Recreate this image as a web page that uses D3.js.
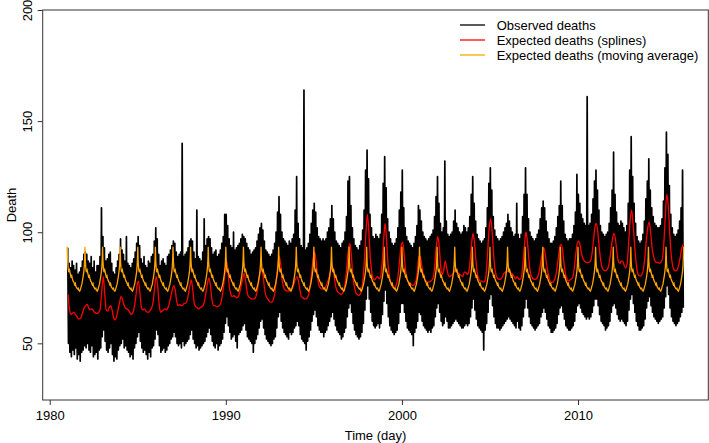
<!DOCTYPE html>
<html><head><meta charset="utf-8">
<script src="https://cdn.jsdelivr.net/npm/d3@7/dist/d3.min.js"></script>
<style>
html,body{margin:0;padding:0;background:#fff;}
svg text{font-family:"Liberation Sans",Arial,Helvetica,sans-serif;font-size:13px;fill:#000;}
</style></head>
<body>
<svg id="chart" width="709" height="443"></svg>
<script>
// ---- data ----
const xTicks = [1980, 1990, 2000, 2010];
const yTicks = [50, 100, 150, 200];
const seriesStart = 1981;          // first day of the series
const obsPerYear = 24;             // observed: half-month samples (peak / trough)
const splinePerYear = 12;          // expected (splines): monthly values

const observed = [
 93,50, 86,46, 84,44, 87,47, 85,45, 83,48, 86,43, 81,45, 82,42, 84,46, 87,47, 90,49,
 91,48, 90,50, 87,47, 86,46, 89,49, 84,44, 87,45, 82,46, 85,43, 85,47, 89,48, 111,53,
 98,56, 93,51, 87,47, 88,46, 90,48, 91,50, 86,45, 82,42, 81,44, 84,43, 87,47, 90,49,
 97,50, 92,52, 90,48, 87,49, 98,47, 86,46, 85,44, 84,45, 86,43, 88,48, 91,50, 95,53,
 98,55, 94,51, 88,48, 86,46, 89,47, 85,45, 84,43, 87,46, 86,44, 89,48, 90,49, 96,52,
 102,56, 97,54, 90,49, 85,46, 87,47, 88,48, 86,46, 85,47, 89,49, 90,50, 92,52, 94,53,
 96,55, 95,53, 91,50, 89,49, 90,50, 91,48, 140,51, 89,49, 90,50, 91,51, 93,52, 96,54,
 97,56, 96,52, 91,50, 88,48, 110,49, 89,47, 88,48, 87,49, 91,50, 106,51, 94,53, 97,55,
 98,57, 97,54, 93,51, 90,49, 91,48, 92,50, 89,47, 90,49, 92,50, 95,52, 98,55, 108,59,
 108,62, 103,58, 97,55, 94,52, 93,53, 100,54, 92,51, 93,48, 94,54, 95,55, 97,56, 99,58,
 98,59, 97,56, 95,53, 93,52, 92,51, 90,50, 91,46, 92,50, 93,52, 96,54, 99,57, 102,60,
 104,61, 101,57, 96,54, 92,52, 91,51, 90,50, 89,49, 90,50, 92,52, 95,53, 100,57, 109,62,
 116,64, 108,60, 100,57, 97,55, 96,54, 95,53, 94,52, 96,55, 95,54, 97,55, 99,57, 110,58,
 125,60, 104,58, 97,54, 94,52, 93,51, 164,50, 92,47, 93,51, 95,53, 99,56, 104,60, 110,63,
 113,65, 109,62, 102,58, 98,56, 97,55, 96,55, 97,53, 96,55, 97,56, 100,58, 102,60, 106,62,
 112,64, 106,61, 100,58, 96,56, 95,55, 94,54, 93,52, 95,53, 96,55, 100,57, 107,62, 123,66,
 125,68, 112,64, 102,59, 97,56, 94,54, 93,53, 92,52, 94,53, 96,55, 101,59, 110,65, 128,70,
 137,76, 124,70, 108,64, 102,60, 98,58, 97,57, 99,58, 98,59, 97,57, 99,59, 108,63, 122,69,
 134,74, 120,68, 106,62, 100,58, 97,56, 95,55, 94,54, 95,55, 97,56, 102,59, 110,64, 118,68,
 128,68, 111,64, 102,60, 98,57, 96,56, 95,55, 94,54, 93,49, 95,55, 98,57, 103,60, 112,64,
 110,63, 105,60, 100,58, 98,57, 97,56, 96,55, 97,56, 98,55, 99,57, 101,58, 107,62, 116,66,
 125,68, 113,64, 104,60, 100,58, 102,59, 132,62, 105,60, 99,57, 98,57, 99,58, 100,59, 105,60,
 110,61, 104,60, 102,59, 100,58, 99,57, 100,57, 103,58, 102,59, 100,58, 102,59, 107,62, 117,66,
 125,70, 113,65, 105,61, 99,58, 97,57, 96,56, 95,55, 96,47, 97,56, 102,59, 111,64, 122,70,
 129,72, 119,67, 107,62, 101,59, 98,57, 97,57, 96,56, 97,57, 98,58, 100,59, 102,60, 104,61,
 108,62, 105,61, 102,60, 100,59, 98,58, 99,57, 113,60, 99,57, 97,56, 99,58, 107,62, 117,66,
 129,70, 117,66, 106,62, 100,59, 98,58, 97,57, 96,56, 97,57, 99,58, 101,59, 106,62, 111,64,
 114,66, 111,64, 105,61, 100,58, 97,57, 95,55, 95,55, 96,56, 98,57, 102,59, 107,63, 112,66,
 123,67, 112,64, 105,61, 99,58, 97,57, 96,56, 97,56, 97,57, 99,58, 103,60, 109,64, 126,67,
 117,68, 113,66, 108,64, 106,63, 104,62, 103,61, 161,62, 103,61, 104,62, 108,64, 115,67, 123,70,
 128,70, 119,67, 110,63, 103,60, 100,59, 99,58, 98,56, 99,57, 100,58, 104,60, 111,64, 119,67,
 136,68, 117,66, 109,63, 104,61, 103,60, 105,61, 104,60, 102,59, 100,58, 103,60, 113,65, 128,70,
 143,72, 125,68, 113,64, 104,60, 98,58, 96,56, 95,56, 96,57, 99,58, 105,61, 115,66, 123,69,
 133,71, 119,67, 111,64, 107,62, 104,61, 103,60, 102,59, 102,60, 103,61, 106,62, 114,66, 129,71,
 145,76, 135,72, 121,66, 108,62, 102,60, 99,59, 98,58, 99,59, 101,60, 105,62, 111,64, 128,66
];

const splines = [
 72, 65, 63, 63.5, 64, 63, 62, 61, 61, 62, 64, 66,
 67, 67.5, 66, 65, 65.5, 65, 64, 63.5, 63.5, 64, 66, 74,
 80, 72, 65, 64.5, 66, 67, 65, 61.5, 60.5, 62, 65, 68,
 71, 70, 67.5, 66, 65.5, 65, 64, 63, 63.5, 66, 70, 76,
 78, 72, 66, 65, 65.5, 64.5, 64, 64, 65, 66, 69, 75,
 80, 76, 68, 64, 64.5, 65, 65.5, 65, 66, 68, 71, 74,
 76, 74, 69, 67, 67.5, 67, 67, 68, 68, 69, 72, 76,
 78.5, 74, 68, 66.5, 66, 65.5, 66, 66.5, 67, 69, 73, 77,
 79.5, 76, 70, 67, 67, 66.5, 66.5, 67, 68, 71, 76, 82,
 87, 82, 75, 72, 71, 71.5, 71, 70.5, 71, 73, 76, 79,
 81.5, 78, 73, 71, 70.5, 70, 70, 70, 71, 74, 78, 82,
 84, 80, 74, 71, 70, 69, 68.5, 68.5, 70, 73, 79, 85,
 89, 85, 78, 75, 74, 73.5, 73.5, 74, 74.5, 75, 77, 79,
 80, 78, 74, 71, 70.5, 70, 70, 70.5, 72, 76, 82, 88,
 91, 87, 80, 76, 75, 74.5, 74.5, 75, 76, 78, 80, 83,
 84.5, 82, 77, 74, 73, 72.5, 72, 72.5, 74, 78, 85, 92,
 95, 90, 81, 76, 73, 72, 71.5, 72, 74, 79, 88, 100,
 108, 100, 88, 82, 79, 78.5, 79.5, 80, 79, 80, 86, 96,
 104, 97, 86, 80, 77, 75.5, 75, 75.5, 77, 81, 88, 94,
 95.5, 90, 83, 79, 77.5, 77, 76.5, 76, 76.5, 78, 82, 89,
 89, 85, 81, 79, 78, 77.5, 77.5, 78, 78.5, 80, 86, 94,
 98, 93, 84, 81, 83, 87, 84, 81, 80, 80.5, 81, 82,
 83, 82, 81.5, 81, 80.5, 80, 82, 82, 81, 82, 87, 95,
 99.5, 95, 87, 81, 79, 78, 78, 77.5, 78, 82, 92, 102,
 106, 100, 90, 83, 80, 79, 78.8, 79, 80, 81.5, 82, 82.5,
 82.5, 82, 81.5, 81, 80, 79, 80, 79, 78.8, 80, 86, 94,
 100, 96, 88, 82, 80, 79, 78.8, 79, 80, 82, 86, 90,
 93, 91, 86, 82, 79, 77.5, 77.4, 78, 79.5, 83, 88, 93,
 94.5, 92, 86, 81, 79, 78, 78.5, 79, 80, 84, 90, 95,
 96, 94, 90, 88, 87, 86.5, 86.3, 86.5, 87, 90, 96, 102,
 104, 100, 93, 87, 84, 83, 82.6, 83, 84, 87, 92, 97,
 99.5, 97, 91, 87, 86, 87, 87, 85, 84, 86, 95, 105,
 110, 104, 95, 87, 82, 80.5, 80.3, 81, 83, 88, 96, 102,
 104.5, 100, 93, 89, 87, 86.5, 86.3, 86, 86.5, 88, 95, 107,
 117, 112, 100, 90, 85, 83, 82.6, 83, 85, 88, 92, 94.5
];

// moving average: the same calendar-day profile repeats every year
const maDays   = [0, 8, 18, 30, 45, 60, 75, 90, 105, 120, 135, 150, 165, 180, 195, 210, 225, 240, 255, 270, 285, 300, 315, 330, 342, 352, 360, 365];
const maValues = [93.5, 87, 83.5, 82, 83, 81.5, 80, 80.5, 79, 78, 77.5, 76.5, 77, 75.5, 75, 74.5, 74.8, 73.8, 73.5, 74.2, 75.5, 76.5, 78.5, 80.5, 82.5, 85, 89, 93.5];
const maYears  = d3.range(1981, 2016);

const legendLabels = ["Observed deaths", "Expected deaths (splines)", "Expected deaths (moving average)"];
const legendColors = ["#000000", "#ff0000", "#ffa500"];

// ---- chart ----
const svg = d3.select("#chart");
const L = 42.7, R = 708.3, T = 10, B = 400;
const x = d3.scaleLinear().domain([1979.6, 2017.4]).range([L, R]);
const y = d3.scaleLinear().domain([24.5, 200]).range([B, T]);

const obsPts = observed.map((v, i) => [seriesStart + (i + 0.5) / obsPerYear, v]);
const splPts = splines.map((v, i) => [seriesStart + (i + 0.5) / splinePerYear, v]);
const maPts = [];
maYears.forEach(yr => maDays.forEach((d, j) => { if (!(j === 0 && yr > maYears[0])) maPts.push([yr + d / 365, maValues[j]]); }));

const line = d3.line().x(d => x(d[0])).y(d => y(d[1]));

svg.append("path").attr("d", line(obsPts))
  .attr("fill", "none").attr("stroke", "#000").attr("stroke-width", 1.7).attr("stroke-linejoin", "round");
svg.append("path").attr("d", d3.line().x(d => x(d[0])).y(d => y(d[1])).curve(d3.curveMonotoneX)(splPts))
  .attr("fill", "none").attr("stroke", "#ff0000").attr("stroke-width", 1.3);
svg.append("path").attr("d", d3.line().x(d => x(d[0])).y(d => y(d[1]))(maPts))
  .attr("fill", "none").attr("stroke", "#ffa500").attr("stroke-width", 1.3);

// frame
svg.append("rect").attr("x", L).attr("y", T).attr("width", R - L).attr("height", B - T)
  .attr("fill", "none").attr("stroke", "#333").attr("stroke-width", 1);

// x axis
const xa = svg.append("g").attr("transform", `translate(0,${B})`)
  .call(d3.axisBottom(x).tickValues(xTicks).tickSize(5).tickPadding(0).tickFormat(d3.format("d")));
xa.select(".domain").remove();
xa.selectAll(".tick line").attr("stroke", "#333");
xa.selectAll(".tick text").attr("y", 20).attr("dy", null).style("font-size", "13px").style("font-family", '"Liberation Sans",Arial,sans-serif').attr("fill", "#000");

// y axis
const ya = svg.append("g").attr("transform", `translate(${L},0)`)
  .call(d3.axisLeft(y).tickValues(yTicks).tickSize(5).tickFormat(d3.format("d")));
ya.select(".domain").remove();
ya.selectAll(".tick line").attr("stroke", "#333");
ya.selectAll(".tick text").attr("x", null).attr("dy", null)
  .attr("transform", "translate(-11.2,0) rotate(-90)").attr("text-anchor", "middle")
  .style("font-size", "13px").style("font-family", '"Liberation Sans",Arial,sans-serif').attr("fill", "#000");

// axis titles
svg.append("text").attr("x", (L + R) / 2).attr("y", 440).attr("text-anchor", "middle").text("Time (day)");
svg.append("text").attr("transform", `translate(15.5,${(T + B) / 2}) rotate(-90)`).attr("text-anchor", "middle").text("Death");

// legend
const lg = svg.append("g");
legendLabels.forEach((lab, i) => {
  const yy = 25 + i * 15;
  lg.append("line").attr("x1", 460).attr("x2", 485).attr("y1", yy).attr("y2", yy)
    .attr("stroke", legendColors[i]).attr("stroke-width", 1.3);
  lg.append("text").attr("x", 496.7).attr("y", yy + 4.6).text(lab);
});
</script>
</body></html>
